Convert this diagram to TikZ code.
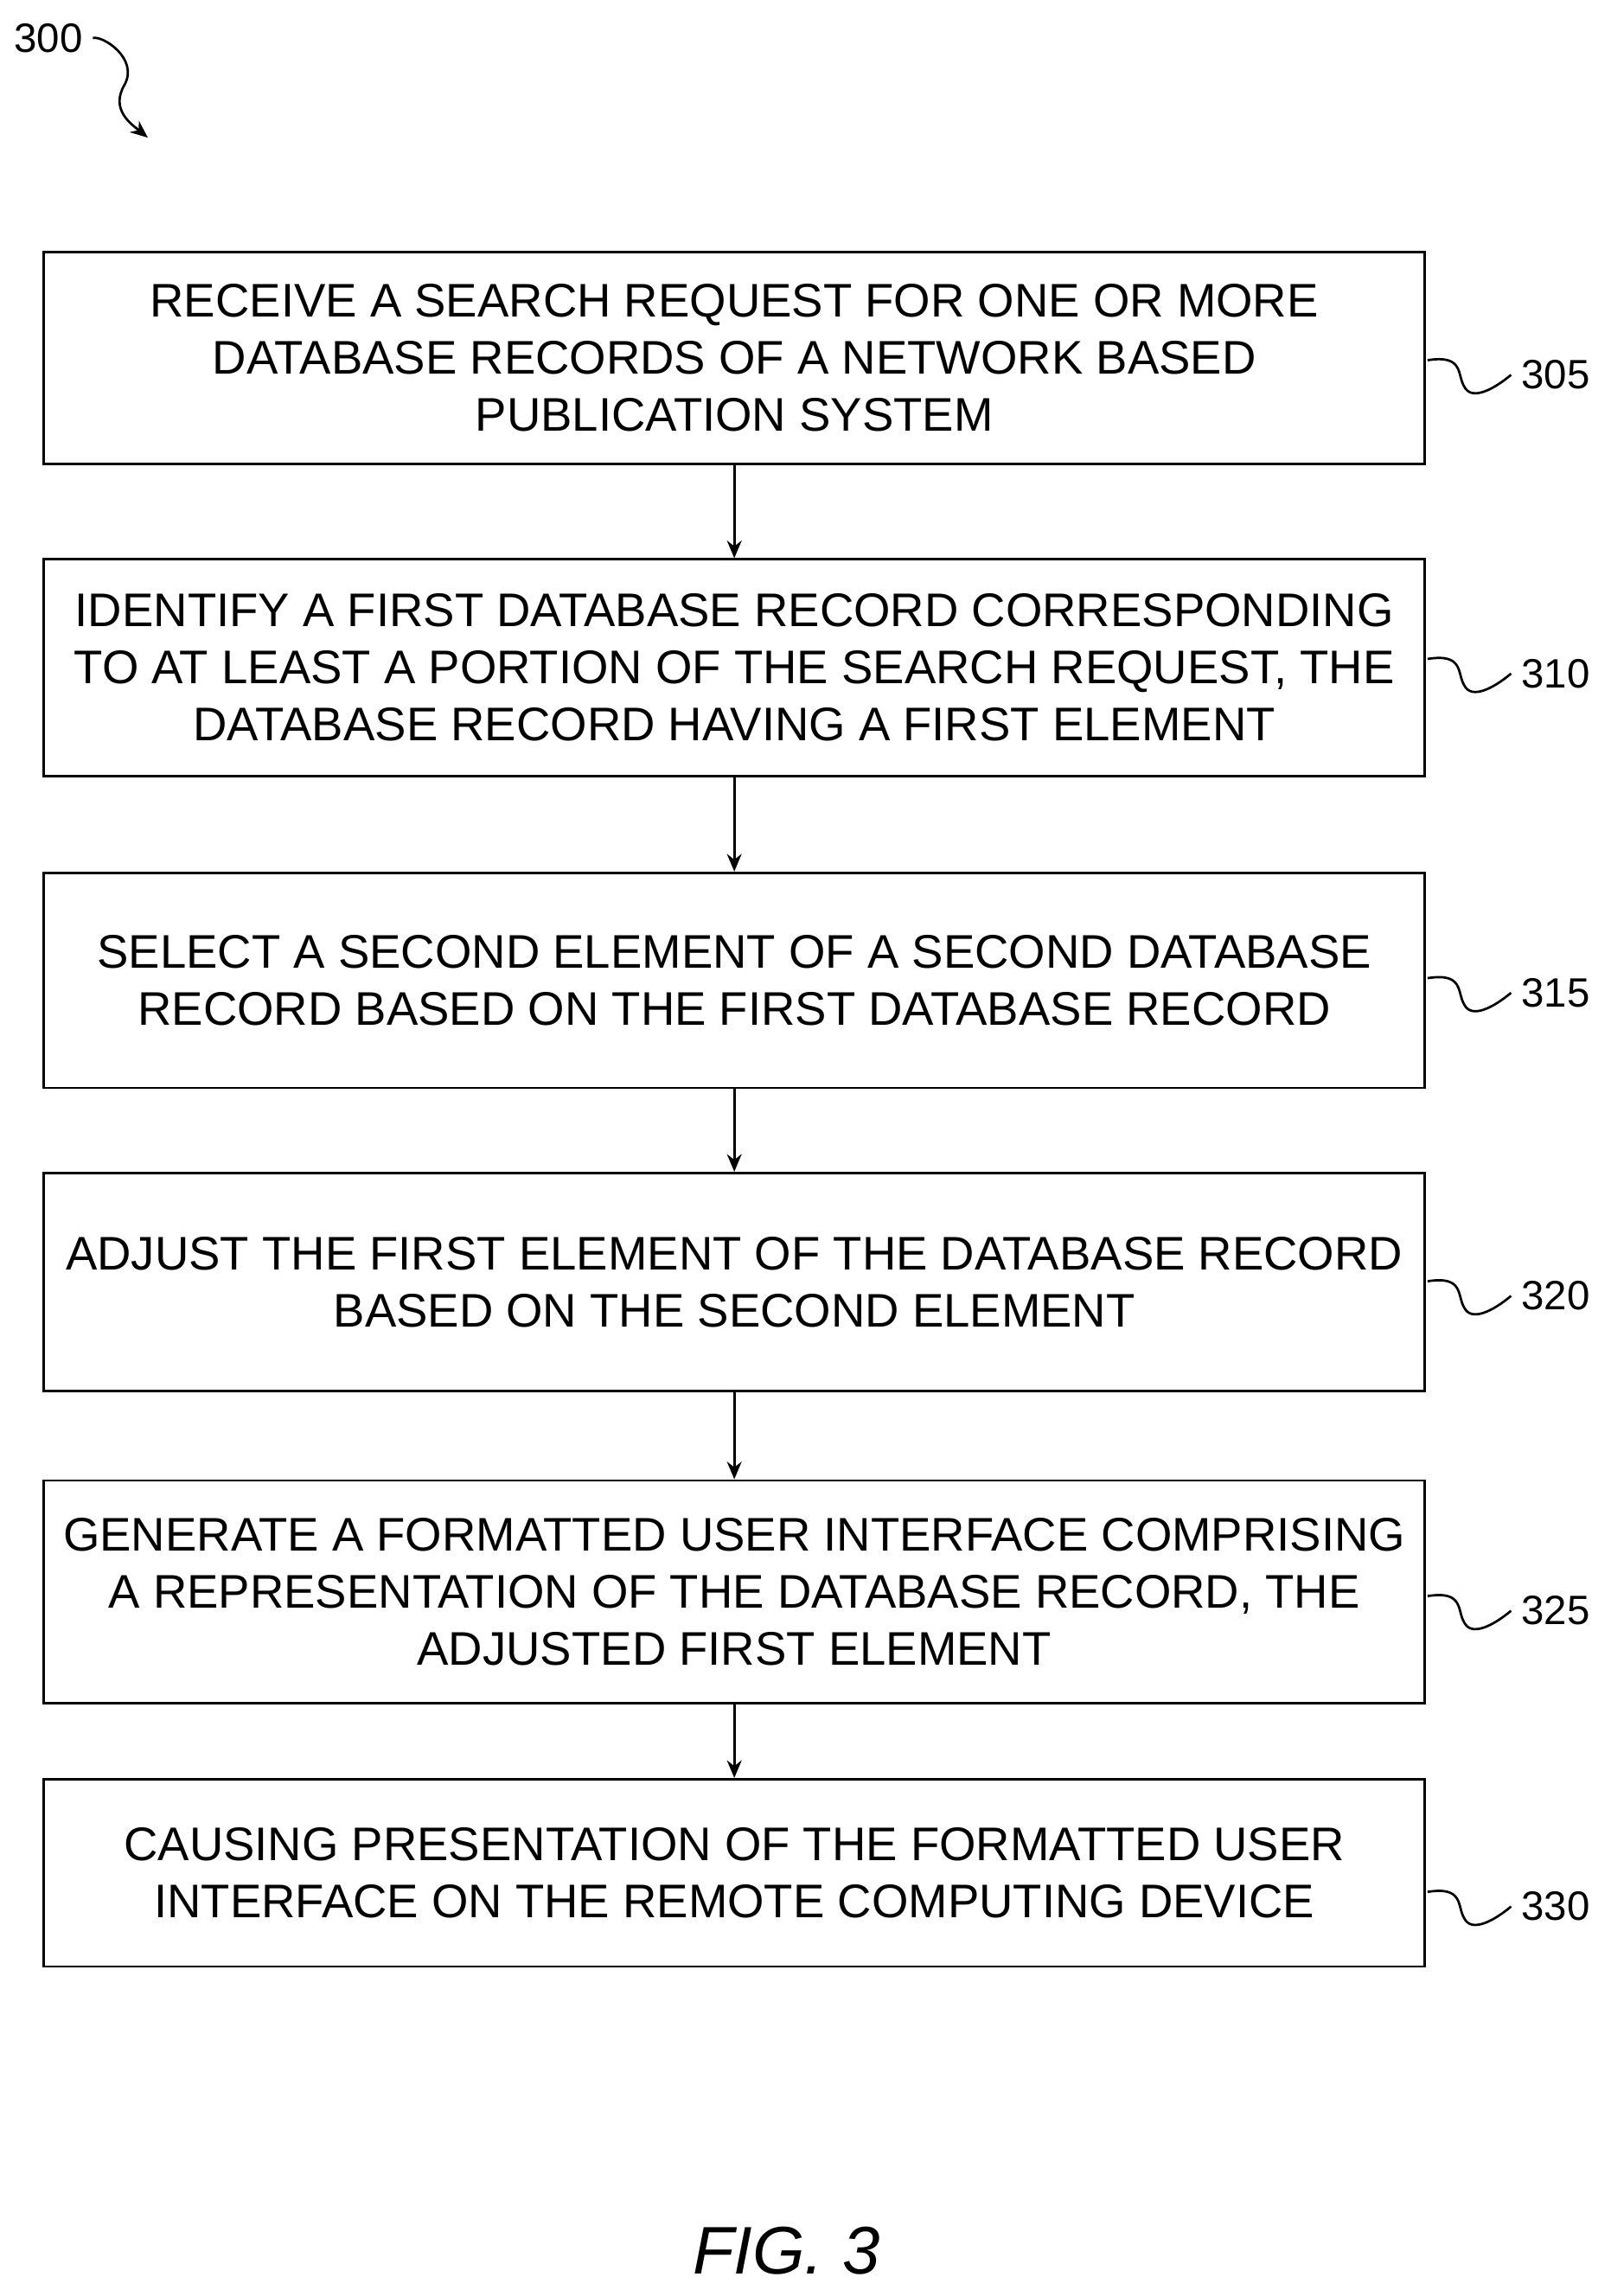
\documentclass[tikz,border=0pt]{standalone}
\usepackage{fontspec}
\setmainfont{Liberation Sans}
\usetikzlibrary{arrows.meta}
\begin{document}
\begin{tikzpicture}[x=0.5pt,y=-0.5pt,
  box/.style={draw,line width=0.8pt,minimum width=471.5pt,align=center,inner sep=0pt,font=\fontsize{16.1}{19.5}\selectfont},
  arr/.style={-{Stealth[length=6pt,width=5pt]},line width=0.8pt},
  lab/.style={font=\fontsize{14}{16}\selectfont,anchor=west},
  sq/.style={line width=0.8pt}]
\useasboundingbox (0,0) rectangle (1100,1568);
\node[box,minimum height=72.5pt] (b1) at (501.5,244.5) {RECEIVE A SEARCH REQUEST FOR ONE OR MORE\\DATABASE RECORDS OF A NETWORK BASED\\PUBLICATION SYSTEM};
\node[box,minimum height=74pt] (b2) at (501.5,456) {IDENTIFY A FIRST DATABASE RECORD CORRESPONDING\\TO AT LEAST A PORTION OF THE SEARCH REQUEST, THE\\DATABASE RECORD HAVING A FIRST ELEMENT};
\node[box,minimum height=73.5pt] (b3) at (501.5,669.5) {SELECT A SECOND ELEMENT OF A SECOND DATABASE\\RECORD BASED ON THE FIRST DATABASE RECORD};
\node[box,minimum height=74.5pt] (b4) at (501.5,875.5) {ADJUST THE FIRST ELEMENT OF THE DATABASE RECORD\\BASED ON THE SECOND ELEMENT};
\node[box,minimum height=76pt] (b5) at (501.5,1087) {GENERATE A FORMATTED USER INTERFACE COMPRISING\\A REPRESENTATION OF THE DATABASE RECORD, THE\\ADJUSTED FIRST ELEMENT};
\node[box,minimum height=64pt] (b6) at (501.5,1279) {CAUSING PRESENTATION OF THE FORMATTED USER\\INTERFACE ON THE REMOTE COMPUTING DEVICE};
\draw[arr] (b1) -- (b2);
\draw[arr] (b2) -- (b3);
\draw[arr] (b3) -- (b4);
\draw[arr] (b4) -- (b5);
\draw[arr] (b5) -- (b6);
\foreach \n/\t/\yy in {1/305/256,2/310/460,3/315/678,4/320/885,5/325/1100,6/330/1302}{
  \node[lab] (l\n) at (1032,\yy) {\t};
  \draw[sq] (975,\yy-10) .. controls (1000,\yy-14) and (995,\yy) .. (1000,\yy+8) .. controls (1005,\yy+18) and (1020,\yy+10) .. (l\n.west);
}
\node[font=\fontsize{14}{16}\selectfont] (n300) at (33,26) {300};
\coordinate (t300) at (101,94);
\draw[arr] (n300.east) .. controls (70,24) and (95,40) .. (85,58) .. controls (75,75) and (90,85) .. (t300);
\node[font=\fontsize{23}{26}\selectfont\itshape] (fig) at (537,1537) {FIG. 3};
\end{tikzpicture}
\end{document}
